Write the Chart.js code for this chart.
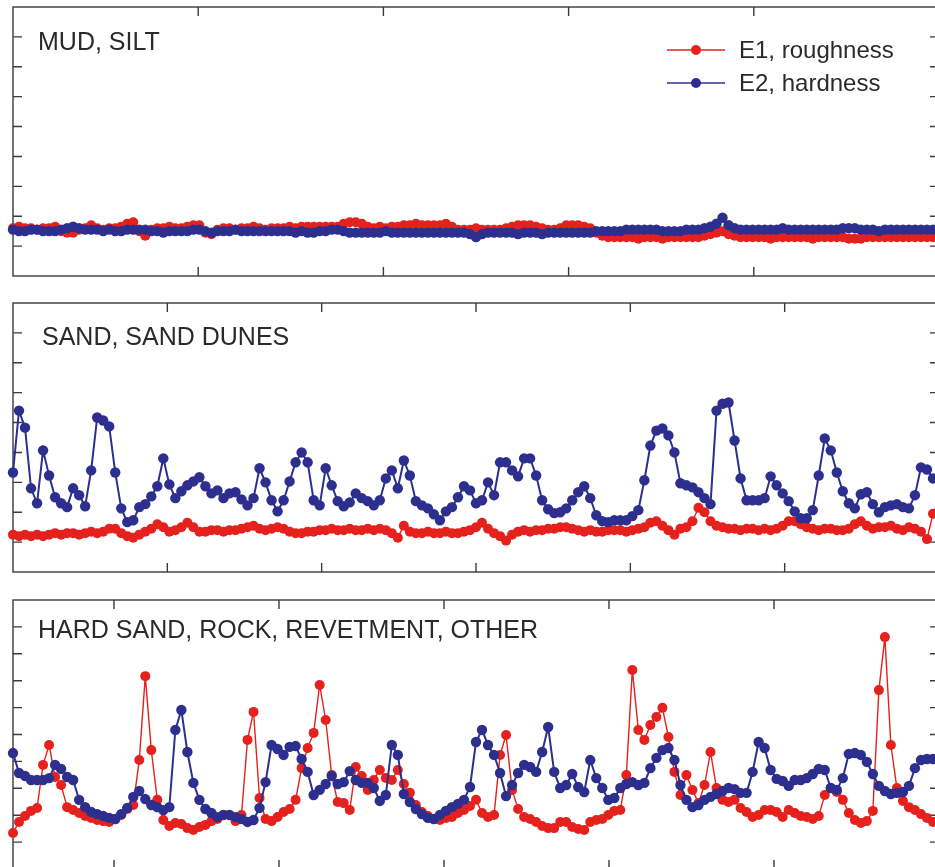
<!DOCTYPE html>
<html>
<head>
<meta charset="utf-8">
<script src="https://cdn.jsdelivr.net/npm/chart.js@4.4.1/dist/chart.umd.min.js"></script>
<style>
  html, body { margin: 0; padding: 0; background: #fff; overflow: hidden; }
  canvas { position: absolute; left: 0; }
</style>
</head>
<body>
<canvas id="mud" width="960" height="290" style="top:0px"></canvas>
<canvas id="sand" width="960" height="290" style="top:290px"></canvas>
<canvas id="hard" width="960" height="300" style="top:580px"></canvas>
<script>
const RED = '#e5211d';
const BLUE = '#2d2f8f';

const seriesNames = ['E1, roughness', 'E2, hardness'];
const panelNames = ['MUD, SILT', 'SAND, SAND DUNES', 'HARD SAND, ROCK, REVETMENT, OTHER'];

// MUD, SILT
const mudE1 = [16, 16.5, 16, 16, 15.5, 16, 16, 16.5, 15, 14.5,
  14.5, 15.5, 16, 17, 16, 15.5, 16, 16, 16.5, 17.5,
  18, 15, 13.5, 15.5, 16, 16, 16.5, 16, 16, 16.5,
  17, 17, 14.5, 14, 15.5, 16, 16, 15.5, 16, 16,
  16.5, 16, 15.5, 16, 16, 16, 16.5, 16, 16.5, 16.5,
  16.5, 16.5, 16.5, 16.5, 16.5, 17.5, 18, 18, 17.5, 16.5,
  16, 16.5, 16, 16.5, 16.5, 17, 17, 17.5, 17, 17,
  17, 17, 17.5, 16.5, 15.5, 15.5, 15.5, 16, 15.5, 15.5,
  15.5, 15.5, 16, 16.5, 17, 17, 17, 16.5, 16, 15.5,
  15.5, 16, 17, 17, 17, 16.5, 16, 14.5, 13.5, 13,
  13, 13, 13, 13, 12.5, 13, 13, 13, 12.5, 13,
  13, 13, 13, 13, 13, 13.5, 14, 14.5, 15, 14,
  13.5, 13, 13, 13, 13, 13, 12.5, 13, 13, 13,
  13, 13, 13, 12.5, 13, 13, 13, 13, 13, 12.5,
  12.5, 12.5, 13, 13, 13, 13, 13, 13, 13, 13,
  13, 13, 13, 13, 13];
const mudE2 = [15.5, 15, 15, 15.5, 15.5, 15, 15, 15, 15.5, 16,
  16.5, 16, 15.5, 15.5, 15.5, 15, 15.5, 15, 15, 15.5,
  15.5, 15.5, 15.5, 15, 15, 14.5, 15, 15, 15, 15,
  15.5, 15.5, 15, 14.5, 15, 15, 15, 15.5, 15, 15,
  15, 15, 15, 15, 15, 15, 15, 14.5, 15, 14.5,
  14.5, 15, 15, 15.5, 15.5, 15, 14.5, 14.5, 14.5, 14.5,
  14.5, 14.5, 15, 14.5, 14.5, 14.5, 14.5, 14.5, 14.5, 14.5,
  14.5, 14.5, 14.5, 14.5, 14.5, 14.5, 14, 13, 14, 14.5,
  14.5, 14.5, 14.5, 14.5, 14, 14.5, 14.5, 14.5, 14, 14.5,
  14.5, 14.5, 14.5, 14.5, 14.5, 14.5, 14.5, 15, 15, 15,
  15, 15, 15.5, 15.5, 15.5, 15.5, 15.5, 15.5, 15, 15,
  15, 15, 15.5, 15.5, 15.5, 16, 16.5, 17.5, 19.5, 17,
  16, 15.5, 15.5, 15.5, 15.5, 15.5, 15.5, 15.5, 16, 15.5,
  15.5, 15.5, 15.5, 15.5, 15.5, 15.5, 15.5, 15.5, 16, 16,
  16, 15.5, 15.5, 15.5, 15, 15.5, 15.5, 15.5, 15.5, 15.5,
  15.5, 15.5, 15.5, 15.5, 15.5];

// SAND, SAND DUNES
const sandE1 = [12.5, 12, 12.5, 12, 12.5, 12, 12.5, 13, 12.5, 13,
  13, 12.5, 13, 13.5, 13, 13.5, 14.5, 14.5, 13, 12,
  11.5, 12.5, 13.5, 14.5, 16, 15, 13.5, 14, 15, 16.5,
  15, 13.5, 13.5, 14, 14, 13.5, 14, 14, 14.5, 15,
  15.5, 14.5, 14, 14.5, 15, 14.5, 13.5, 13, 13, 13.5,
  13.5, 14, 14, 14.5, 14, 14, 14.5, 14, 14, 14.5,
  14, 14.5, 14, 13, 11.5, 15.5, 13.5, 13, 13, 13.5,
  13, 13, 13.5, 13, 13, 13.5, 14, 15, 16.5, 14.5,
  13, 12, 10.5, 12.5, 13.5, 14, 13.5, 14, 14, 14.5,
  14.5, 15, 15, 14.5, 14, 13.5, 14, 13.5, 13.5, 14,
  14, 14, 13.5, 14, 14.5, 15, 16.5, 17, 15.5, 14,
  12.5, 14.5, 15, 17, 21.5, 20, 17, 15.5, 15, 14.5,
  14.5, 14, 14.5, 14.5, 14, 14.5, 14, 14.5, 15.5, 17,
  17, 16, 15, 14.5, 14, 14.5, 14.5, 14, 14, 14.5,
  16, 17, 15.5, 14.5, 15, 15, 15.5, 14.5, 14, 15,
  14.5, 13.5, 11, 19.5, 20.5];
const sandE2 = [33.3, 54, 48.3, 28, 23, 40.7, 32.3, 25, 23, 21.7,
  28, 25.7, 22, 34, 51.7, 50.7, 48.7, 33.3, 21.3, 16.7,
  17.3, 21.7, 22.7, 25.3, 28.7, 38, 29.3, 24.7, 27, 29,
  30.3, 31.7, 28.7, 26.3, 27.3, 24.7, 26.3, 26.7, 24.3, 22.3,
  24.7, 34.7, 30, 24, 20.3, 24, 30.3, 36.7, 40, 36.7,
  24, 22.3, 34.7, 29, 23.7, 22, 23.3, 26.3, 24.7, 23.7,
  22.3, 24, 31.3, 34, 28, 37.3, 32.3, 23.7, 22.3, 21.3,
  19.3, 17.3, 20.3, 21.7, 25, 28.7, 27.3, 23, 24, 30,
  25.7, 36.7, 36.7, 34, 32, 38, 38, 32.3, 24, 21,
  19.7, 20, 21.3, 24, 26.7, 28.7, 24.7, 19, 17, 16.7,
  17.3, 17.3, 17.3, 18.7, 20.7, 30.7, 42.3, 47.3, 48, 45.7,
  40, 29.7, 29, 28.3, 26.7, 24.7, 22.7, 54, 56.3, 56.7,
  44, 31.3, 24, 24, 24, 24.7, 32, 29, 26.3, 23.7,
  20.3, 18, 18, 20.7, 32.3, 44.7, 40.7, 33.3, 27, 23,
  21.3, 26, 26.7, 22.7, 20, 21.7, 22.3, 22.7, 21.7, 21.3,
  25.7, 35, 34.3, 31.3, 30.7];

// HARD SAND, ROCK, REVETMENT, OTHER
const hardE1 = [13.4, 17.5, 19.7, 21.6, 22.7, 38.7, 46.1, 34.2, 31.2, 23,
  21.9, 20.8, 19.7, 19, 18.2, 17.8, 17.5, 18.6, 20.1, 22.3,
  23.8, 40.5, 71.7, 44.2, 25.7, 18.2, 16, 17.1, 16.7, 15.2,
  14.5, 15.6, 16.4, 17.8, 18.6, 20.1, 20.1, 17.8, 20.1, 48,
  58.4, 26.4, 18.6, 17.8, 19.3, 21.2, 22.3, 25.7, 37.5, 45,
  50.6, 68.4, 55.4, 34.9, 24.9, 24.5, 21.9, 37.9, 34.6, 29.4,
  33.1, 36.8, 33.8, 33.1, 36.8, 31.6, 28.3, 23.8, 21.2, 19.7,
  18.6, 18.2, 19, 19.3, 20.8, 21.9, 23.4, 25.7, 20.8, 19.3,
  20.1, 42.4, 49.8, 29.4, 22.3, 19.3, 18.6, 17.5, 16, 15.2,
  15.2, 17.5, 17.5, 15.6, 14.9, 14.5, 17.5, 18.2, 18.6, 20.1,
  21.6, 21.9, 34.9, 74, 51.7, 48, 53.5, 56.5, 59.9, 49.1,
  36.1, 27.5, 34.9, 29.4, 24.5, 31.2, 43.5, 30.1, 25.7, 24.9,
  25.7, 22.7, 21.2, 19.3, 20.1, 21.9, 21.9, 21.2, 19.3, 21.9,
  20.8, 19.7, 19.3, 18.6, 19.7, 27.5, 30.1, 28.6, 25.7, 20.8,
  18.2, 17.1, 17.8, 21.6, 66.5, 86.2, 46.1, 30.1, 25.3, 23,
  21.9, 20.4, 19, 17.5, 16.7];
const hardE2 = [43.1, 35.7, 34.6, 33.1, 33.1, 33.1, 33.8, 38.7, 37.2, 34.2,
  33.1, 25.7, 23, 21.2, 20.4, 19.7, 19, 18.6, 20.4, 22.7,
  26.8, 29, 26, 23.8, 23, 21.9, 23, 51.7, 59.1, 43.5,
  32, 25.7, 22.3, 20.8, 19.3, 20.1, 20.1, 19.3, 18.6, 17.5,
  18.2, 22.7, 32.3, 46.1, 44.6, 42.4, 45.4, 45.7, 40.9, 36.1,
  27.5, 29.4, 31.6, 34.6, 31.6, 32.3, 36.4, 33.1, 32, 32,
  30.1, 25.3, 27.5, 46.1, 42.4, 27.9, 24.9, 22.3, 20.4, 19,
  18.6, 20.1, 21.6, 23, 24.2, 25.7, 30.5, 47.2, 51.7, 46.1,
  42.4, 35.7, 27.1, 31.2, 35.7, 38.7, 37.9, 36.1, 43.5, 52.8,
  36.1, 30.1, 31.2, 35.3, 30.5, 28.6, 40.5, 33.8, 30.1, 25.7,
  26.4, 30.1, 31.6, 32.3, 31.2, 32, 37.5, 41.3, 44.2, 45,
  40.5, 31.2, 25.7, 23, 23.8, 25.7, 26.8, 27.9, 29, 30.1,
  29.7, 28.3, 28.3, 36.1, 47.2, 45, 36.8, 33.5, 32.7, 30.9,
  33.1, 33.1, 33.8, 35.3, 37.2, 36.8, 30.1, 29.4, 33.8, 42.8,
  43.1, 42.4, 39.8, 35.3, 30.9, 29, 27.9, 28.3, 28.6, 30.9,
  37.5, 40.5, 40.9, 40.9, 40.5];

// x range and inner tick marks of each panel (axis units)
const mudX = [0, 5], mudXTicks = [1, 2, 3, 4];
const sandX = [0, 6], sandXTicks = [1, 2, 3, 4, 5];
const hardX = [0.388, 6], hardXTicks = [1, 2, 3, 4, 5];

function track(vals, range) {
  const step = (range[1] - range[0]) / (vals.length - 1);
  return vals.map((v, i) => ({ x: range[0] + i * step, y: v }));
}

// box, inward ticks, panel title and (top panel only) legend
const framePlugin = {
  id: 'frame',
  beforeDatasetsDraw(chart, args, opts) {
    const { ctx, chartArea: a, scales } = chart;
    const len = 9;
    ctx.save();
    ctx.strokeStyle = '#3a3a3a';
    ctx.lineWidth = 1.4;
    ctx.strokeRect(a.left, a.top, a.right - a.left, a.bottom - a.top);
    ctx.beginPath();
    opts.xTicks.forEach(v => {
      const px = scales.x.getPixelForValue(v);
      ctx.moveTo(px, a.top); ctx.lineTo(px, a.top + len);
      ctx.moveTo(px, a.bottom); ctx.lineTo(px, a.bottom - len);
    });
    for (let v = opts.yStep; v < scales.y.max; v += opts.yStep) {
      const py = scales.y.getPixelForValue(v);
      ctx.moveTo(a.left, py); ctx.lineTo(a.left + len, py);
      ctx.moveTo(a.right, py); ctx.lineTo(a.right - len, py);
    }
    ctx.stroke();
    ctx.fillStyle = '#2a2a2a';
    ctx.font = '25px "Liberation Sans", Arial, sans-serif';
    ctx.textBaseline = 'alphabetic';
    ctx.fillText(opts.title, a.left + opts.titleDx, a.top + opts.titleDy);
    ctx.restore();
  },
  afterDatasetsDraw(chart, args, opts) {
    if (!opts.legend) return;
    const { ctx } = chart;
    ctx.save();
    ctx.font = '24px "Liberation Sans", Arial, sans-serif';
    ctx.textBaseline = 'middle';
    // legend lists E1 first, E2 second
    const items = chart.data.datasets.slice().sort((p, q) => p.legendRank - q.legendRank);
    items.forEach((ds, k) => {
      const y = 50 + k * 33;
      ctx.strokeStyle = ds.borderColor;
      ctx.lineWidth = 1.5;
      ctx.beginPath(); ctx.moveTo(667, y); ctx.lineTo(725, y); ctx.stroke();
      ctx.fillStyle = ds.backgroundColor;
      ctx.beginPath(); ctx.arc(696, y, 5, 0, Math.PI * 2); ctx.fill();
      ctx.fillStyle = '#2a2a2a';
      ctx.fillText(ds.label, 739, y + 1);
    });
    ctx.restore();
  }
};

function makePanel(id, e1, e2, xr, xTicks, yMax, title, titleDx, titleDy, pad, legend) {
  return new Chart(document.getElementById(id), {
    type: 'line',
    data: {
      datasets: [
        {
          label: seriesNames[1], data: track(e2, xr), legendRank: 1, order: 0,
          borderColor: BLUE, backgroundColor: BLUE, borderWidth: 2,
          pointRadius: 5.2, pointBorderWidth: 0, pointBackgroundColor: BLUE, clip: false
        },
        {
          label: seriesNames[0], data: track(e1, xr), legendRank: 0, order: 1,
          borderColor: RED, backgroundColor: RED, borderWidth: 1.4,
          pointRadius: 5, pointBorderWidth: 0, pointBackgroundColor: RED, clip: false
        }
      ]
    },
    options: {
      responsive: false,
      animation: false,
      events: [],
      layout: { padding: pad },
      elements: { line: { tension: 0 } },
      scales: {
        x: { type: 'linear', min: xr[0], max: xr[1], display: false },
        y: { type: 'linear', min: 0, max: yMax, display: false }
      },
      plugins: {
        legend: { display: false },
        tooltip: { enabled: false },
        frame: { xTicks: xTicks, yStep: 10, title: title, titleDx: titleDx, titleDy: titleDy, legend: legend }
      }
    },
    plugins: [framePlugin]
  });
}

makePanel('mud', mudE1, mudE2, mudX, mudXTicks, 90, panelNames[0], 25, 43,
  { left: 13, right: 21, top: 7, bottom: 14 }, true);
makePanel('sand', sandE1, sandE2, sandX, sandXTicks, 90, panelNames[1], 29, 42,
  { left: 13, right: 21, top: 13, bottom: 8 }, false);
makePanel('hard', hardE1, hardE2, hardX, hardXTicks, 100, panelNames[2], 25, 38,
  { left: 13, right: 21, top: 20, bottom: 11 }, false);
</script>
</body>
</html>
